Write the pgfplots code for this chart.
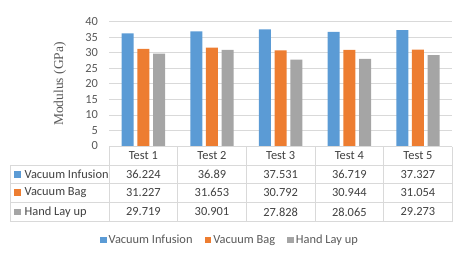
\documentclass[border=0pt]{standalone}
\usepackage{pgfplots}
\pgfplotsset{compat=1.18}
\usepackage{fontspec}
\setmainfont{Carlito}
\newfontfamily\seriffont{Liberation Serif}
\definecolor{cblue}{HTML}{5B9BD5}
\definecolor{corange}{HTML}{ED7D31}
\definecolor{cgray}{HTML}{A5A5A5}
\definecolor{gridc}{HTML}{D9D9D9}
\definecolor{txt}{HTML}{595959}
\definecolor{ttxt}{HTML}{404040}
\newcommand{\fs}{\fontsize{12.4}{14}\selectfont}
\begin{document}
\begin{tikzpicture}[x=1pt,y=1pt]
\path[use as bounding box] (0pt,0pt) rectangle (461pt,-252pt);
\begin{axis}[
  at={(109pt,-146pt)}, anchor=south west,
  scale only axis, width=343.3pt, height=124.3pt,
  xmin=-0.5, xmax=4.5, ymin=0, ymax=40,
  ytick={0,5,...,40},
  xtick=\empty,
  ybar=3.7pt, bar width=12pt,
  axis line style={draw=none},
  ymajorgrids, grid style={gridc, line width=0.8pt},
  major tick length=0pt,
  /pgf/number format/assume math mode=true,
  yticklabel style={font=\fs, text=txt, xshift=-7.5pt},
  clip=false,
  legend style={at={(0.352,-0.756)}, anchor=center, draw=none, fill=none,
    legend columns=3, font=\fs, text=txt,
    /tikz/every even column/.append style={column sep=10pt},
    inner sep=0pt, row sep=0pt},
  legend image code/.code={\fill[#1] (0pt,-3.4pt) rectangle (6.8pt,3.4pt);},
]
\addplot[fill=cblue, draw=none] coordinates {(0,36.224) (1,36.89) (2,37.531) (3,36.719) (4,37.327)};
\addplot[fill=corange, draw=none] coordinates {(0,31.227) (1,31.653) (2,30.792) (3,30.944) (4,31.054)};
\addplot[fill=cgray, draw=none] coordinates {(0,29.719) (1,30.901) (2,27.828) (3,28.065) (4,29.273)};
\legend{Vacuum Infusion, Vacuum Bag, Hand Lay up}
\end{axis}
% y label
\node[rotate=90, font=\seriffont\fontsize{13.5}{15}\selectfont, text=txt] at (60pt,-84pt) {Modulus (GPa)};
% table lines
\draw[gridc, line width=0.8pt] (109pt,-146.5pt) -- (452.3pt,-146.5pt);
\draw[gridc, line width=0.8pt] (10pt,-165pt) -- (452.3pt,-165pt);
\draw[gridc, line width=0.8pt] (10pt,-183.5pt) -- (452.3pt,-183.5pt);
\draw[gridc, line width=0.8pt] (10pt,-202.5pt) -- (452.3pt,-202.5pt);
\draw[gridc, line width=0.8pt] (10pt,-221.7pt) -- (452.3pt,-221.7pt);
\draw[gridc, line width=0.8pt] (10pt,-165pt) -- (10pt,-221.7pt);
\foreach \xx in {109,177.66,246.32,314.98,383.64,452.3}
  \draw[gridc, line width=0.8pt] (\xx pt,-146.5pt) -- (\xx pt,-221.7pt);
% header
\foreach \i in {1,...,5}
  \node[font=\fs, text=ttxt, inner sep=0pt] at ({(109+68.66*(\i-0.5))*1pt},-156pt) {Test \i};
% row labels
\fill[cblue] (14pt,-170.8pt) rectangle (20.7pt,-177.6pt);
\fill[corange] (14pt,-189.4pt) rectangle (20.7pt,-196.2pt);
\fill[cgray] (14pt,-208.6pt) rectangle (20.7pt,-215.4pt);
\node[font=\fs, text=ttxt, inner sep=0pt, anchor=west] at (24.5pt,-174.2pt) {Vacuum Infusion};
\node[font=\fs, text=ttxt, inner sep=0pt, anchor=west] at (24.5pt,-192.8pt) {Vacuum Bag};
\node[font=\fs, text=ttxt, inner sep=0pt, anchor=west] at (24.5pt,-212pt) {Hand Lay up};
% values
\foreach \v [count=\i] in {36.224,36.89,37.531,36.719,37.327}
  \node[font=\fs, text=ttxt, inner sep=0pt] at ({(109+68.66*(\i-0.5))*1pt},-174.2pt) {\v};
\foreach \v [count=\i] in {31.227,31.653,30.792,30.944,31.054}
  \node[font=\fs, text=ttxt, inner sep=0pt] at ({(109+68.66*(\i-0.5))*1pt},-192.8pt) {\v};
\foreach \v [count=\i] in {29.719,30.901,27.828,28.065,29.273}
  \node[font=\fs, text=ttxt, inner sep=0pt] at ({(109+68.66*(\i-0.5))*1pt},-212pt) {\v};
\end{tikzpicture}
\end{document}
